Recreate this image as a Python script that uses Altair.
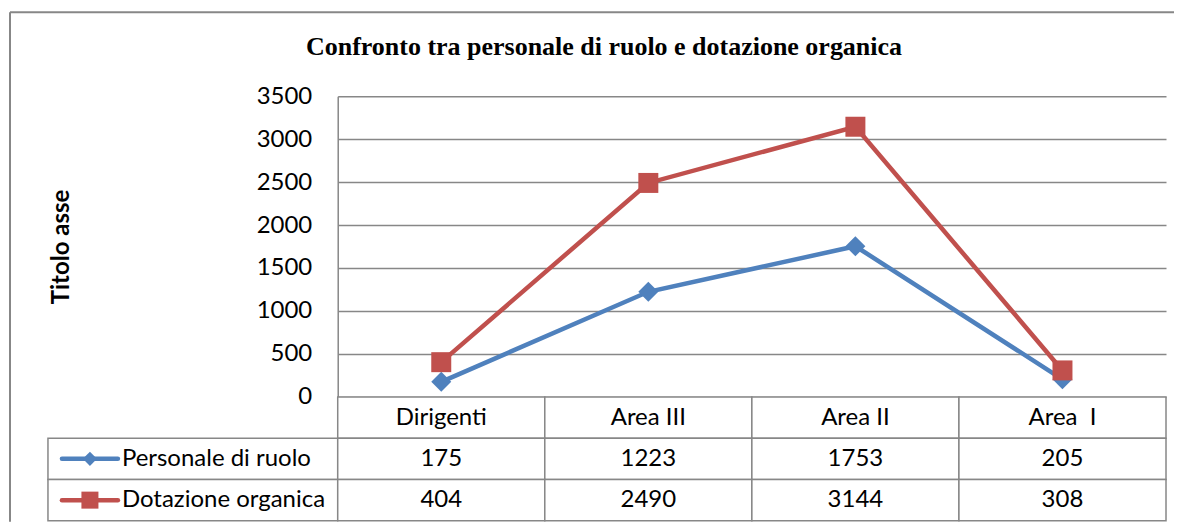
import altair as alt
import pandas as pd

# ---- data ----
categories = ["Dirigenti", "Area III", "Area II", "Area\u00a0 I"]
series_names = ["Personale di ruolo", "Dotazione organica"]
personale = [175, 1223, 1753, 205]
dotazione = [404, 2490, 3144, 308]
y_ticks = [0, 500, 1000, 1500, 2000, 2500, 3000, 3500]
series_colors = ["#4F81BD", "#C0504D"]
series_shapes = ["diamond", "square"]
title_text = "Confronto tra personale di ruolo e dotazione organica"
axis_title = "Titolo asse"

GRID = "#878787"
FONT = "Lato"
FS = 24

rows = []
for s, vals in zip(series_names, [personale, dotazione]):
    for c, v in zip(categories, vals):
        rows.append({"serie": s, "categoria": c, "valore": v})
df = pd.DataFrame(rows)

color_scale = alt.Scale(domain=series_names, range=series_colors)
shape_scale = alt.Scale(domain=series_names, range=series_shapes)

# ---- line chart (top right cell) ----
base = alt.Chart(df).encode(
    x=alt.X("categoria:N", sort=categories,
            scale=alt.Scale(type="point", domain=categories, padding=0.5), axis=None),
    y=alt.Y("valore:Q", scale=alt.Scale(domain=[0, 3500], nice=False),
            axis=alt.Axis(values=y_ticks, format="d", title=axis_title, grid=True,
                          gridColor=GRID, gridWidth=1.5, domainColor=GRID, domainWidth=1.5,
                          ticks=False, labelPadding=26, labelFont=FONT, labelFontSize=FS,
                          labelColor="black", titleFont=FONT, titleFontSize=FS,
                          titleFontWeight="bold", titleColor="black", titleAngle=270,
                          titleX=-276, titleY=150.5, titleBaseline="middle",
                          titleAlign="center")),
    color=alt.Color("serie:N", scale=color_scale, legend=None),
)
lines = base.mark_line(strokeWidth=4.5)
points = base.mark_point(filled=True, opacity=1, size=400).encode(
    shape=alt.Shape("serie:N", scale=shape_scale, legend=None))

top = alt.layer(lines, points).properties(
    width=829, height=301,
    title=alt.TitleParams(title_text, font="Liberation Serif", fontSize=26,
                          fontWeight="bold", color="black", anchor="middle",
                          frame="group", dx=-148, offset=24),
)

# ---- blank top-left cell holding the outer chart frame ----
one = pd.DataFrame({"k": [0]})
frame_left = alt.Chart(one).mark_rule(color=GRID, strokeWidth=2).encode(
    x=alt.value(-38), y=alt.value(-84), y2=alt.value(426))
frame_top = alt.Chart(one).mark_rule(color=GRID, strokeWidth=2).encode(
    x=alt.value(-38), x2=alt.value(1127), y=alt.value(-84))
blank = alt.layer(frame_left, frame_top).properties(width=290, height=301)

# ---- data table ----
table_rows = ["header"] + series_names
trows = []
for c in categories:
    trows.append({"riga": "header", "categoria": c, "testo": c})
for s, vals in zip(series_names, [personale, dotazione]):
    for c, v in zip(categories, vals):
        trows.append({"riga": s, "categoria": c, "testo": str(v)})
tdf = pd.DataFrame(trows)

band_y = alt.Scale(type="band", domain=table_rows, paddingInner=0, paddingOuter=0)
band_x = alt.Scale(type="band", domain=categories, paddingInner=0, paddingOuter=0)

tbase = alt.Chart(tdf)
cells = tbase.mark_rect(fill="white", stroke=GRID, strokeWidth=1.5).encode(
    x=alt.X("categoria:N", sort=categories, scale=band_x, axis=None),
    y=alt.Y("riga:N", scale=band_y, axis=None),
)
cell_text = tbase.mark_text(font=FONT, fontSize=FS, color="black").encode(
    x=alt.X("categoria:N", sort=categories, scale=band_x, axis=None, bandPosition=0.5),
    y=alt.Y("riga:N", scale=band_y, axis=None, bandPosition=0.5),
    text="testo:N",
)
table = alt.layer(cells, cell_text).properties(width=829, height=124)

# ---- legend column of the table ----
ldf = pd.DataFrame({"riga": series_names, "serie": series_names})
lbase = alt.Chart(ldf)
lcells = lbase.mark_rect(fill="white", stroke=GRID, strokeWidth=1.5).encode(
    x=alt.value(0), x2=alt.value(290),
    y=alt.Y("riga:N", scale=band_y, axis=None),
)
lrule = lbase.mark_rule(strokeWidth=4.5, strokeCap="round").encode(
    x=alt.value(14), x2=alt.value(70),
    y=alt.Y("riga:N", scale=band_y, axis=None, bandPosition=0.5),
    color=alt.Color("serie:N", scale=color_scale, legend=None),
)
lpoint = lbase.mark_point(filled=True, opacity=1).encode(
    x=alt.value(42),
    y=alt.Y("riga:N", scale=band_y, axis=None, bandPosition=0.5),
    color=alt.Color("serie:N", scale=color_scale, legend=None),
    shape=alt.Shape("serie:N", scale=shape_scale, legend=None),
    size=alt.Size("serie:N", scale=alt.Scale(domain=series_names, range=[200, 290]), legend=None),
)
ltext = lbase.mark_text(font=FONT, fontSize=FS, color="black", align="left").encode(
    x=alt.value(74),
    y=alt.Y("riga:N", scale=band_y, axis=None, bandPosition=0.5),
    text="serie:N",
)
legend_col = alt.layer(lcells, lrule, lpoint, ltext).properties(width=290, height=124)

chart = alt.concat(blank, top, legend_col, table, columns=2, spacing=0, bounds="flush").properties(
    padding={"left": 1, "top": 3, "right": 0, "bottom": 0},
    background="white",
).configure_view(stroke=None)

chart.save("out.html", embed_options={"renderer": "svg", "actions": False})
